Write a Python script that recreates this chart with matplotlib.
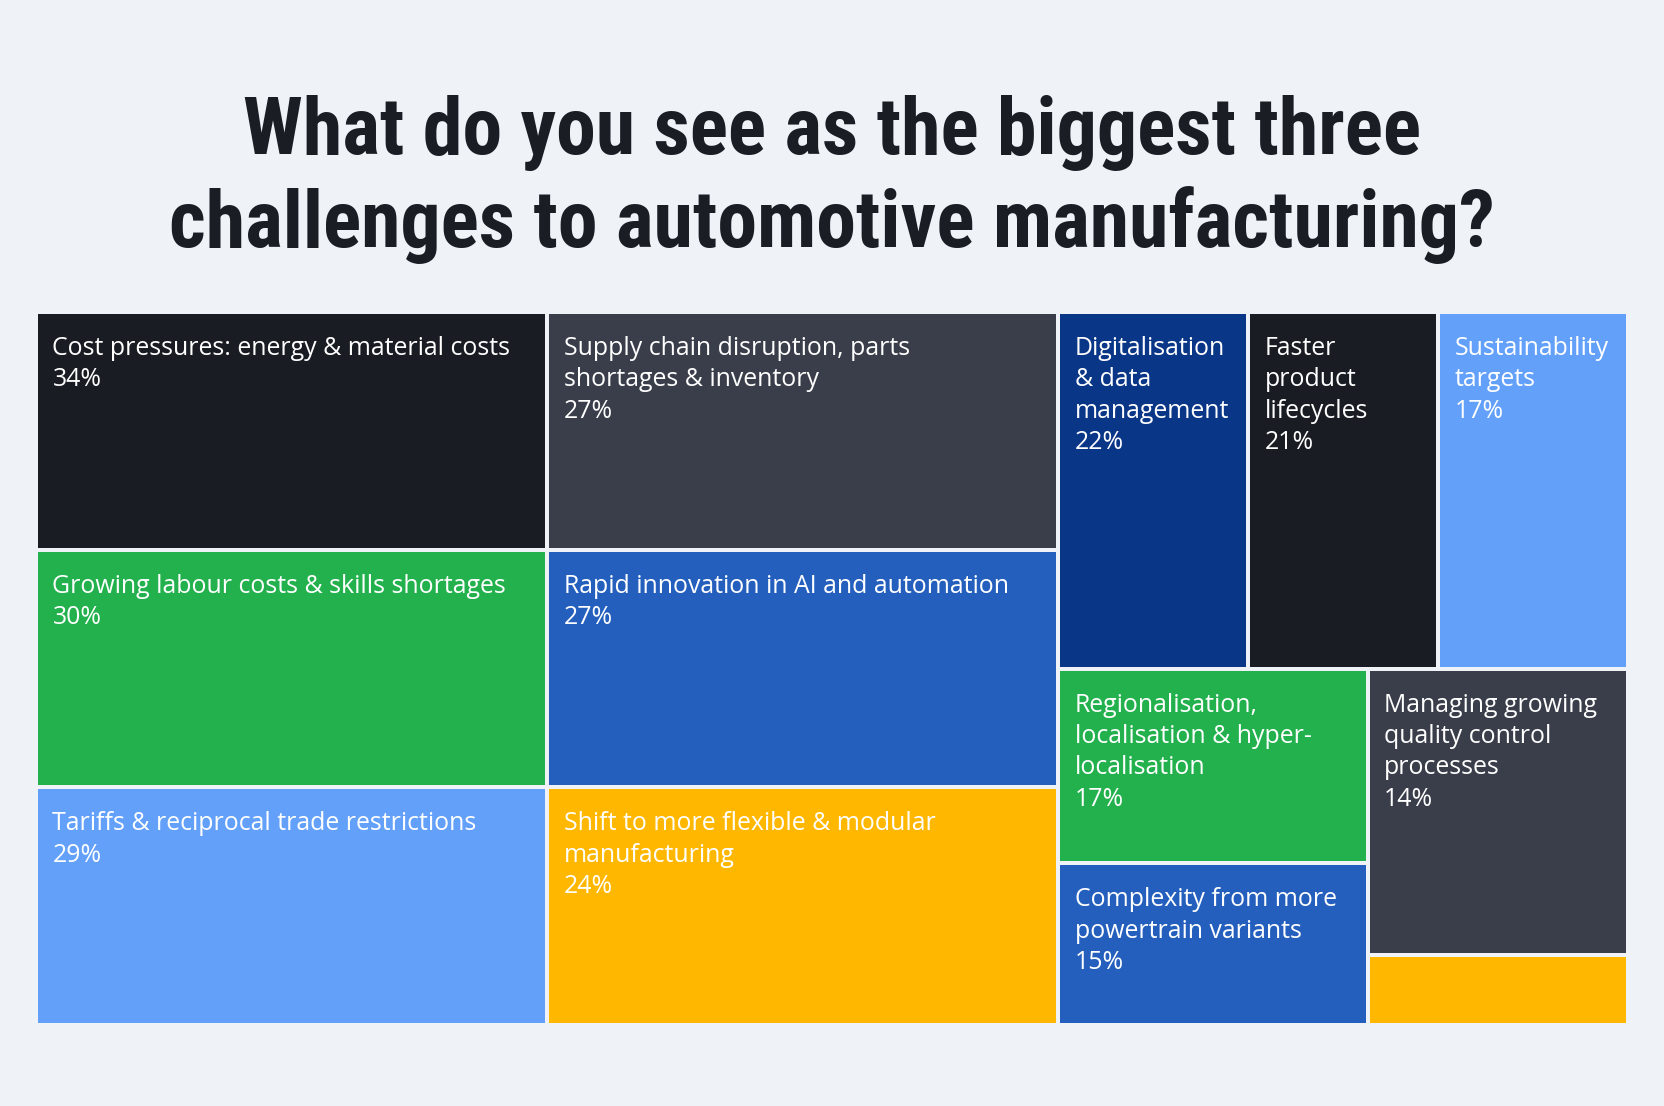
import matplotlib
matplotlib.use("Agg")
import matplotlib.pyplot as plt
from matplotlib.patches import Rectangle
from matplotlib import font_manager as fm

# ---------------- data ----------------
labels = [
    "Cost pressures: energy & material costs",
    "Growing labour costs & skills shortages",
    "Tariffs & reciprocal trade restrictions",
    "Supply chain disruption, parts\nshortages & inventory",
    "Rapid innovation in AI and automation",
    "Shift to more flexible & modular\nmanufacturing",
    "Digitalisation\n& data\nmanagement",
    "Faster\nproduct\nlifecycles",
    "Sustainability\ntargets",
    "Regionalisation,\nlocalisation & hyper-\nlocalisation",
    "Complexity from more\npowertrain variants",
    "Managing growing\nquality control\nprocesses",
    "",
]
values = [34, 30, 29, 27, 27, 24, 22, 21, 17, 17, 15, 14, None]
colors = [
    "#191c23", "#22b14c", "#62a0fa", "#3a3e4a", "#245fbe", "#ffb700",
    "#0a3687", "#191c23", "#62a0fa", "#22b14c", "#245fbe", "#3a3e4a",
    "#ffb700",
]
title = "What do you see as the biggest three\nchallenges to automotive manufacturing?"

# layout tree: (direction, [(weight, child), ...]); leaf = index into data
layout = ("h", [
    (1.0, ("v", [(1, 0), (1, 1), (1, 2)])),
    (1.0, ("v", [(1, 3), (1, 4), (1, 5)])),
    (1.115, ("v", [
        (1, ("h", [(1, 6), (1, 7), (1, 8)])),
        (1, ("h", [
            (1.19, ("v", [(1.207, 9), (1, 10)])),
            (1, ("v", [(4.08, 11), (1, 12)])),
        ])),
    ])),
])

BG = "#eff3f8"
W, H = 1664, 1106

avail = {f.name for f in fm.fontManager.ttflist}
title_family = "DejaVu Sans"
for cand in ["Roboto Condensed", "Barlow Condensed", "Liberation Sans Narrow"]:
    if cand in avail:
        title_family = cand
        break


def split(node, x0, y0, x1, y1, out):
    if isinstance(node, int):
        out[node] = (x0, y0, x1, y1)
        return
    d, kids = node
    tot = sum(w for w, _ in kids)
    pos = x0 if d == "h" else y0
    span = (x1 - x0) if d == "h" else (y1 - y0)
    for w, child in kids:
        step = span * w / tot
        if d == "h":
            split(child, pos, y0, pos + step, y1, out)
        else:
            split(child, x0, pos, x1, pos + step, out)
        pos += step


fig = plt.figure(figsize=(W / 100, H / 100), dpi=100, facecolor=BG)

ax_l, ax_t, ax_r, ax_b = 36, 312, 1628, 1025
ax = fig.add_axes([ax_l / W, 1 - ax_b / H, (ax_r - ax_l) / W, (ax_b - ax_t) / H])
ax.set_xlim(0, 1)
ax.set_ylim(1, 0)
ax.axis("off")
ax.set_facecolor(BG)

gx = 2 / (ax_r - ax_l)
gy = 2 / (ax_b - ax_t)

rects = {}
split(layout, 0, 0, 1, 1, rects)

for i in range(len(labels)):
    x0, y0, x1, y1 = rects[i]
    x0 += gx; x1 -= gx; y0 += gy; y1 -= gy
    ax.add_patch(Rectangle((x0, y0), x1 - x0, y1 - y0, facecolor=colors[i],
                           edgecolor="none"))
    if labels[i]:
        txt = f"{labels[i]}\n{values[i]}%"
        ax.annotate(txt, xy=(x0, y0), xytext=(14.5, -22),
                    textcoords="offset pixels", ha="left", va="top",
                    color="white", fontsize=17.9, family="Open Sans",
                    linespacing=1.34)

fig.text(0.5, 1 - 247 / H, title, ha="center", va="baseline",
         fontsize=57.5, fontweight="bold", family=title_family,
         color="#1a1d24", linespacing=1.24)

fig.savefig("out.png", dpi=100, facecolor=BG)
